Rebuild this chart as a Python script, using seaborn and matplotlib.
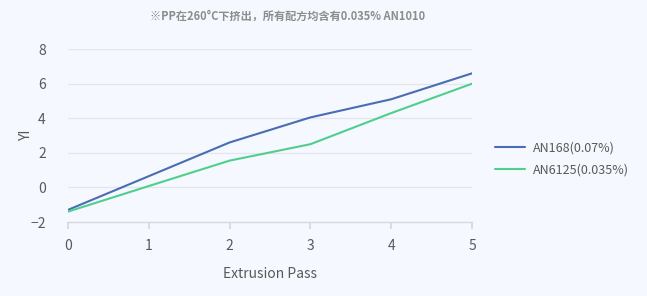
import matplotlib
matplotlib.use("Agg")
import matplotlib.pyplot as plt
import seaborn as sns
import pandas as pd

passes = [0, 1, 2, 3, 4, 5]
an168 = [-1.3, 0.65, 2.6, 4.05, 5.1, 6.6]
an6125 = [-1.4, 0.08, 1.55, 2.5, 4.3, 6.0]
series_names = ["AN168(0.07%)", "AN6125(0.035%)"]
title_text = "※PP在260°C下挤出，所有配方均含有0.035% AN1010"

sns.set_theme(style="white")
plt.rcParams['font.family'] = ['Noto Sans CJK SC', 'DejaVu Sans']

bg = "#f5f8fe"
df = pd.DataFrame({
    "pass": passes * 2,
    "YI": an168 + an6125,
    "series": [series_names[0]] * len(passes) + [series_names[1]] * len(passes),
})

fig = plt.figure(figsize=(6.47, 2.96), dpi=100, facecolor=bg)
ax = fig.add_axes([0.105, 0.25, 0.6245, 0.584])
ax.set_facecolor(bg)
sns.lineplot(data=df, x="pass", y="YI", hue="series",
             palette=["#4a6cb3", "#4fcf8c"], linewidth=1.5, ax=ax, legend=True)

ax.set_xlim(0, 5)
ax.set_ylim(-2, 8)
ax.set_xticks(passes)
ax.set_yticks([-2, 0, 2, 4, 6, 8])
for y in [0, 2, 4, 6, 8]:
    ax.axhline(y, color="#e4e6ea", linewidth=0.9, zorder=0)
for s in ["top", "right", "left"]:
    ax.spines[s].set_visible(False)
ax.spines["bottom"].set_color("#d6d8dc")
ax.spines["bottom"].set_linewidth(1.0)
ax.tick_params(axis="x", bottom=True, length=5, color="#d6d8dc", colors="#595959", labelsize=10, pad=7)
ax.tick_params(axis="y", left=False, colors="#595959", labelsize=10, pad=10)
for t in ax.get_xticklabels() + ax.get_yticklabels():
    t.set_color("#595959")
ax.set_xlabel("Extrusion Pass", fontsize=10, color="#595959", labelpad=10)
ax.set_ylabel("YI", fontsize=10, color="#595959", labelpad=-2)

leg = ax.legend(loc="center left", bbox_to_anchor=(1.03, 0.365), frameon=False,
                fontsize=9, handlelength=2.4, handletextpad=0.6, labelspacing=0.7)
for t in leg.get_texts():
    t.set_color("#595959")

fig.text(0.232, 0.945, title_text, fontsize=8, color="#8c8c8c",
         fontweight="bold", ha="left", va="center")

fig.savefig("out.png", dpi=100, facecolor=bg)
